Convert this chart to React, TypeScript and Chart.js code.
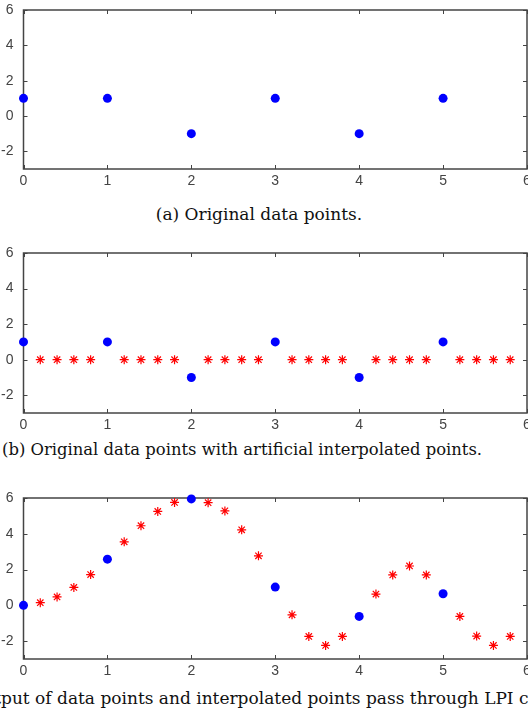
import React, { useEffect, useRef } from 'react';
import { Chart, registerables } from 'chart.js';

Chart.register(...registerables);

// ---- data ----
const xTickValues = [0, 1, 2, 3, 4, 5, 6];
const yTickValues = [-2, 0, 2, 4, 6];

const xOriginal = [0, 1, 2, 3, 4, 5];
const yOriginal = [1, 1, -1, 1, -1, 1];

const xInterpolated = [0.2, 0.4, 0.6, 0.8, 1.2, 1.4, 1.6, 1.8, 2.2, 2.4, 2.6, 2.8, 3.2, 3.4, 3.6, 3.8, 4.2, 4.4, 4.6, 4.8, 5.2, 5.4, 5.6, 5.8];
const yInterpolatedZero = [0, 0, 0, 0, 0, 0, 0, 0, 0, 0, 0, 0, 0, 0, 0, 0, 0, 0, 0, 0, 0, 0, 0, 0];

const yFilteredOriginal = [0, 2.58, 5.95, 1.02, -0.62, 0.65];
const yFilteredInterpolated = [0.15, 0.47, 1.0, 1.72, 3.55, 4.45, 5.25, 5.75, 5.74, 5.28, 4.22, 2.77, -0.53, -1.74, -2.24, -1.74, 0.63, 1.7, 2.2, 1.7, -0.62, -1.72, -2.24, -1.74];

const captionA = '(a) Original data points.';
const captionB = '(b) Original data points with artificial interpolated points.';
const captionCHidden = '(c) Out';
const captionCVisible = 'put of data points and interpolated points pass through LPI circuit.';

const AXIS_COLOR = '#444';
const TICK_FONT = { family: '"Liberation Sans", Arial, sans-serif', size: 14 };

const boxPlugin = {
  id: 'matlabBox',
  beforeDatasetsDraw(chart: any) {
    const { ctx, chartArea, scales } = chart;
    const { left, right, top, bottom } = chartArea;
    const xs = scales.x;
    const ys = scales.y;
    ctx.save();
    ctx.strokeStyle = AXIS_COLOR;
    ctx.lineWidth = 1.5;
    ctx.strokeRect(left, top, right - left, bottom - top);
    ctx.lineWidth = 1;
    ctx.beginPath();
    xTickValues.forEach((v) => {
      const px = Math.round(xs.getPixelForValue(v)) + 0.5;
      ctx.moveTo(px, bottom);
      ctx.lineTo(px, bottom - 4);
      ctx.moveTo(px, top);
      ctx.lineTo(px, top + 4);
    });
    yTickValues.forEach((v) => {
      const py = Math.round(ys.getPixelForValue(v)) + 0.5;
      ctx.moveTo(left, py);
      ctx.lineTo(left + 4, py);
      ctx.moveTo(right, py);
      ctx.lineTo(right - 4, py);
    });
    ctx.stroke();
    ctx.restore();
  },
};

type PanelProps = { top: number; height: number; blueY: number[]; redY?: number[] };

function Panel({ top, height, blueY, redY }: PanelProps) {
  const ref = useRef<HTMLCanvasElement>(null);
  useEffect(() => {
    if (!ref.current) return;
    const datasets: any[] = [];
    if (redY) {
      datasets.push({
        label: 'interpolated',
        data: xInterpolated.map((x, i) => ({ x, y: redY[i] })),
        pointStyle: 'star',
        pointRadius: 4.5,
        borderColor: '#ff0000',
        backgroundColor: '#ff0000',
        pointBorderWidth: 1.2,
        showLine: false,
        clip: false,
      });
    }
    datasets.push({
      label: 'original',
      data: xOriginal.map((x, i) => ({ x, y: blueY[i] })),
      pointStyle: 'circle',
      pointRadius: 4.5,
      borderColor: '#0000ff',
      backgroundColor: '#0000ff',
      pointBorderWidth: 0,
      showLine: false,
      clip: false,
    });
    const chart = new Chart(ref.current, {
      type: 'scatter',
      data: { datasets },
      options: {
        animation: false,
        responsive: false,
        maintainAspectRatio: false,
        layout: { autoPadding: false, padding: { top: 10, left: 0, right: 1, bottom: 0 } },
        plugins: { legend: { display: false }, tooltip: { enabled: false } },
        scales: {
          x: {
            type: 'linear',
            min: 0,
            max: 6,
            afterBuildTicks: (s: any) => {
              s.ticks = xTickValues.map((v) => ({ value: v }));
            },
            afterFit: (s: any) => {
              s.height = 24;
              s.paddingLeft = 0;
              s.paddingRight = 0;
            },
            grid: { display: false, drawTicks: false },
            border: { display: false },
            ticks: { font: TICK_FONT, color: AXIS_COLOR, padding: 4, maxRotation: 0, autoSkip: false },
          },
          y: {
            type: 'linear',
            min: -3,
            max: 6,
            afterBuildTicks: (s: any) => {
              s.ticks = yTickValues.map((v) => ({ value: v }));
            },
            afterFit: (s: any) => {
              s.width = 23.5;
              s.paddingTop = 0;
              s.paddingBottom = 0;
            },
            grid: { display: false, drawTicks: false },
            border: { display: false },
            ticks: { font: TICK_FONT, color: AXIS_COLOR, padding: 10, autoSkip: false },
          },
        },
      } as any,
      plugins: [boxPlugin],
    });
    return () => chart.destroy();
  }, []);
  return (
    <canvas
      ref={ref}
      width={528}
      height={height}
      style={{ position: 'absolute', left: 0, top, width: 528, height }}
    />
  );
}

const captionStyle: React.CSSProperties = {
  position: 'absolute',
  fontFamily: '"DejaVu Serif", "Liberation Serif", serif',
  fontSize: 17,
  lineHeight: '20px',
  color: '#111',
  whiteSpace: 'nowrap',
};

export default function App() {
  return (
    <div
      style={{
        position: 'absolute',
        left: 0,
        top: 0,
        width: 528,
        height: 719,
        overflow: 'hidden',
        background: '#fff',
      }}
    >
      <Panel top={0} height={193} blueY={yOriginal} />
      <div style={{ ...captionStyle, left: 259 - 300, width: 600, textAlign: 'center', top: 204 }}>{captionA}</div>
      <Panel top={243} height={194} blueY={yOriginal} redY={yInterpolatedZero} />
      <div style={{ ...captionStyle, fontSize: 16.4, left: 2, top: 440 }}>{captionB}</div>
      <Panel top={488} height={195} blueY={yFilteredOriginal} redY={yFilteredInterpolated} />
      <div style={{ ...captionStyle, left: 1, top: 688 }}>
        <span style={{ position: 'absolute', right: '100%' }}>{captionCHidden}</span>
        {captionCVisible}
      </div>
    </div>
  );
}
